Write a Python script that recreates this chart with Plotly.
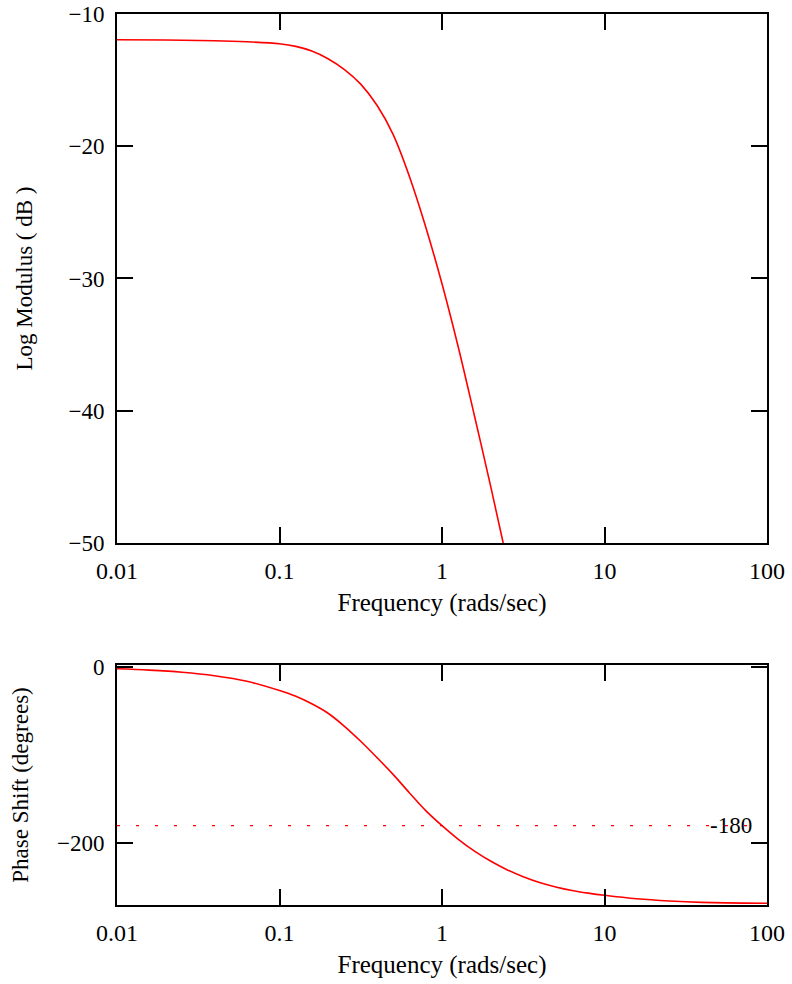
import plotly.graph_objects as go

# Magnitude (Log Modulus, dB)
mag_freq = [0.01, 0.02, 0.04, 0.063, 0.1, 0.126, 0.158, 0.2, 0.251, 0.316, 0.398,
            0.5, 0.631, 0.794, 1.0, 1.26, 1.585, 2.0, 2.38]
mag_db = [-11.95, -11.97, -12.02, -12.1, -12.25, -12.45, -12.8, -13.4, -14.2, -15.3, -16.9,
          -19.1, -22.3, -26.1, -30.4, -35.2, -40.4, -45.8, -50.0]

# Phase shift (degrees)
ph_freq = [0.01, 0.0158, 0.0251, 0.0398, 0.063, 0.1, 0.126, 0.158, 0.2, 0.251, 0.316,
           0.398, 0.5, 0.631, 0.794, 1.0, 1.26, 1.585, 2.0, 2.51, 3.16, 3.98, 5.01,
           6.31, 7.94, 10, 15.8, 25.1, 39.8, 100]
ph_deg = [-2.3, -3.8, -6.2, -10.2, -16.5, -27, -33.5, -42, -53, -67.5, -84.5,
          -103, -122, -143, -163, -180, -195.5, -209, -220.5, -230, -238, -244.5, -249.5,
          -253.5, -256.5, -259, -263, -265.5, -267, -268]

ref_level = -180
x_tickvals = [0.01, 0.1, 1, 10, 100]
x_ticktext = ["0.01", "0.1", "1", "10", "100"]
mag_ticks = [-50, -40, -30, -20, -10]
ph_ticks = [0, -200]

FONT = "Liberation Serif"
FS = 23
FSX = 24

fig = go.Figure()
fig.add_trace(go.Scatter(x=mag_freq, y=mag_db, mode="lines",
                         line=dict(color="red", width=1.6, shape="spline"),
                         xaxis="x", yaxis="y", showlegend=False))
fig.add_trace(go.Scatter(x=ph_freq, y=ph_deg, mode="lines",
                         line=dict(color="red", width=1.6, shape="spline"),
                         xaxis="x2", yaxis="y2", showlegend=False))

axis_common = dict(showline=True, linecolor="black", linewidth=2, mirror="ticks",
                   ticks="inside", ticklen=16, tickwidth=2, tickcolor="black",
                   showgrid=False, zeroline=False, automargin=False)

xfont = dict(family=FONT, size=FSX, color="black")
xtitlefont = dict(family=FONT, size=25, color="black")
yfont = dict(family=FONT, size=FS, color="black")

fig.update_layout(
    width=792, height=984,
    paper_bgcolor="white", plot_bgcolor="white",
    margin=dict(l=117, r=25, t=14, b=79),
    font=dict(family=FONT, size=FS, color="black"),
    xaxis=dict(type="log", range=[-2, 2], tickvals=x_tickvals, ticktext=x_ticktext,
               domain=[0, 1], anchor="y", ticklabelstandoff=5, tickfont=xfont,
               title=dict(text="Frequency (rads/sec)", font=xtitlefont, standoff=11),
               **axis_common),
    yaxis=dict(range=[-50, -10], tickvals=mag_ticks, domain=[0.4063, 1], anchor="x",
               ticklabelstandoff=6, tickfont=yfont,
               title=dict(text="Log Modulus ( dB )", font=yfont, standoff=29),
               **axis_common),
    xaxis2=dict(type="log", range=[-2, 2], tickvals=x_tickvals, ticktext=x_ticktext,
                domain=[0, 1], anchor="y2", ticklabelstandoff=5, tickfont=xfont,
                title=dict(text="Frequency (rads/sec)", font=xtitlefont, standoff=11),
                **axis_common),
    yaxis2=dict(range=[-270, 2], tickvals=ph_ticks, domain=[0, 0.2694], anchor="x2",
                ticklabelstandoff=6, tickfont=yfont,
                title=dict(text="Phase Shift (degrees)", font=yfont, standoff=22),
                **axis_common),
)

fig.add_shape(type="line", xref="x2 domain", yref="y2", x0=0, x1=0.975, y0=ref_level, y1=ref_level,
              line=dict(color="red", width=1.3, dash="3px,16px"))
fig.add_annotation(xref="x2 domain", yref="y2", x=0.98, y=ref_level, text="-180",
                   showarrow=False, xanchor="right", yanchor="middle",
                   font=dict(family=FONT, size=FS, color="black"))

fig.write_html("out.html", config={"displayModeBar": False},
               post_script="document.body.style.margin='0px';")
